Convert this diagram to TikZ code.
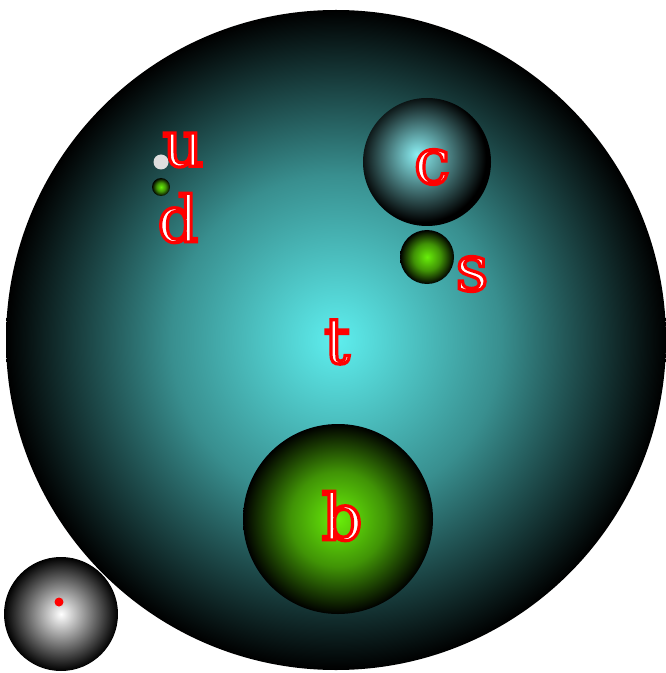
\documentclass[tikz,border=0pt]{standalone}
\usepackage{fontspec}
\setmainfont{DejaVu Serif}
\usepackage{xcolor}
\usepackage{tikz}

\definecolor{topcyan}{RGB}{94,238,238}
\definecolor{charmcyan}{RGB}{140,240,244}
\definecolor{quarkgreen}{RGB}{104,238,10}
\definecolor{upgray}{RGB}{222,222,222}

% radial glows, the circle edge sits at 25bp
\pgfdeclareradialshading{topglow}{\pgfpoint{0bp}{0bp}}{color(0bp)=(topcyan); color(12.5bp)=(topcyan!60!black); color(25bp)=(black); color(50bp)=(black)}
\pgfdeclareradialshading{charmglow}{\pgfpoint{-4bp}{3bp}}{color(0bp)=(charmcyan); color(25bp)=(black); color(50bp)=(black)}
\pgfdeclareradialshading{greenglow}{\pgfpoint{0bp}{0bp}}{color(0bp)=(quarkgreen); color(12.5bp)=(quarkgreen!62!black); color(25bp)=(black); color(50bp)=(black)}
\pgfdeclareradialshading{grayglow}{\pgfpoint{0bp}{0bp}}{color(0bp)=(white); color(25bp)=(black); color(50bp)=(black)}

% red outlined letters with a white fill
\newcommand{\flavour}[1]{\special{pdf:literal direct 2 Tr 2.4 w 1 0 0 RG 1 1 1 rg}#1\special{pdf:literal direct 0 Tr}}

\begin{document}
\begin{tikzpicture}[x=0.75pt,y=-0.75pt,
  flav/.style={inner sep=0pt,font=\fontsize{48}{48}\selectfont}]
  \useasboundingbox (0,0) rectangle (665,673);
  % top quark
  \shade[shading=topglow] (336,340) circle (330);
  % charm and strange
  \shade[shading=charmglow] (427,162) circle (64);
  \shade[shading=greenglow] (427,257) circle (27);
  % bottom
  \shade[shading=greenglow] (338,519) circle (95);
  % up and down
  \fill[upgray] (161,162) circle (7.5);
  \shade[shading=greenglow] (161,187) circle (9);
  % electron-like ball with its dot
  \shade[shading=grayglow] (61,614) circle (57);
  \fill[red] (59,602) circle (4.5);
  % labels
  \node[flav] (tlabel) at (337,342) {\flavour{t}};
  \node[flav] (blabel) at (342,516) {\flavour{b}};
  \node[flav] (clabel) at (432,167) {\flavour{c}};
  \node[flav] (slabel) at (472,274) {\flavour{s}};
  \node[flav] (ulabel) at (183,150) {\flavour{u}};
  \node[flav] (dlabel) at (178,218) {\flavour{d}};
\end{tikzpicture}
\end{document}
